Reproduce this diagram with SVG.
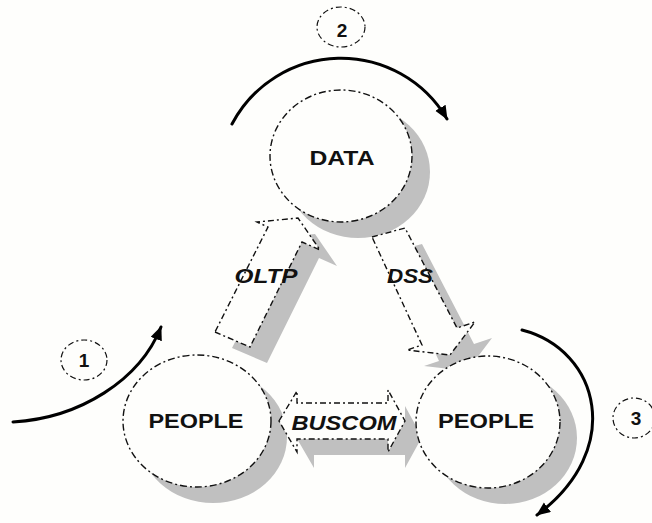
<svg xmlns="http://www.w3.org/2000/svg" width="652" height="523" viewBox="0 0 652 523">
<defs>
<style>
.bg{fill:#fefefc}
.sh{fill:#c0c0c0;stroke:none}
.node{fill:#fefefc;stroke:#111;stroke-width:1.4;stroke-dasharray:7 3 2 3}
.blk{fill:#fefefc;stroke:#111;stroke-width:1.4;stroke-dasharray:6 3 2 3;stroke-linejoin:miter}
.num{fill:none;stroke:#111;stroke-width:1.2;stroke-dasharray:6 3 2 3}
.curve{fill:none;stroke:#000;stroke-width:3;stroke-linecap:round}
.t{font-family:"Liberation Sans",Arial,sans-serif;font-weight:bold;font-size:21px;fill:#111;text-anchor:middle}
.ti{font-style:italic}
.n{font-family:"Liberation Sans",Arial,sans-serif;font-weight:bold;font-size:19px;fill:#111;text-anchor:middle}
</style>
<marker id="ah" markerUnits="userSpaceOnUse" markerWidth="16" markerHeight="14" refX="13" refY="6" orient="auto">
<path d="M0,0 L14,6 L0,12 z" fill="#000"/>
</marker>
</defs>
<rect class="bg" x="0" y="0" width="652" height="523"/>

<g id="shadows">
<ellipse class="sh" cx="358" cy="172" rx="72" ry="66"/>
<ellipse class="sh" cx="213" cy="437" rx="74" ry="66"/>
<ellipse class="sh" cx="505" cy="438" rx="72" ry="66"/>
<polygon class="sh" points="232,348 267,363 319,258 337,266 315,234 274,238 285,243"/>
<polygon class="sh" points="389,253 422,244 474,344 492,338 467,371 424,366 439,361"/>
<polygon class="sh" points="296,437 314,407 314,419 405,419 405,406 422,437 405,468 405,455 314,455 314,468"/>
</g>

<g id="connectors">
<g id="arrow-oltp">
<polygon class="blk" points="215,332 250,347 302,242 320,250 298,218 257,222 268,227"/>
<text class="t ti" x="266" y="283" textLength="63" lengthAdjust="spacingAndGlyphs">OLTP</text>
</g>
<g id="arrow-dss">
<polygon class="blk" points="372,237 405,228 457,328 475,322 450,355 407,350 422,345"/>
<text class="t ti" x="410" y="283" textLength="46" lengthAdjust="spacingAndGlyphs">DSS</text>
</g>
<g id="arrow-buscom">
<polygon class="blk" points="279,421 297,391 297,403 388,403 388,390 405,421 388,452 388,439 297,439 297,452"/>
<text class="t ti" x="344" y="430" textLength="105" lengthAdjust="spacingAndGlyphs">BUSCOM</text>
</g>
<path id="curve-1" class="curve" d="M13,422 C80,418 140,380 161,327" marker-end="url(#ah)"/>
<path id="curve-2" class="curve" d="M232,124 A123,123 0 0 1 447,119" marker-end="url(#ah)"/>
<path id="curve-3" class="curve" d="M522,330 C600,350 625,450 537,515" marker-end="url(#ah)"/>
</g>

<g id="node-data">
<ellipse class="node" cx="341" cy="156" rx="71" ry="66"/>
<text class="t" x="342" y="165" textLength="65" lengthAdjust="spacingAndGlyphs">DATA</text>
</g>
<g id="node-people-left">
<ellipse class="node" cx="197" cy="421" rx="74" ry="66"/>
<text class="t" x="196" y="428" textLength="95" lengthAdjust="spacingAndGlyphs">PEOPLE</text>
</g>
<g id="node-people-right">
<ellipse class="node" cx="488" cy="422" rx="72" ry="66"/>
<text class="t" x="486" y="428" textLength="96" lengthAdjust="spacingAndGlyphs">PEOPLE</text>
</g>

<g id="step-1">
<ellipse class="num" cx="84" cy="360" rx="23" ry="20"/>
<text class="n" x="84" y="367">1</text>
</g>
<g id="step-2">
<ellipse class="num" cx="341" cy="27" rx="24" ry="20"/>
<text class="n" x="342" y="37">2</text>
</g>
<g id="step-3">
<ellipse class="num" cx="634" cy="418" rx="21" ry="20"/>
<text class="n" x="636" y="425">3</text>
</g>
</svg>
